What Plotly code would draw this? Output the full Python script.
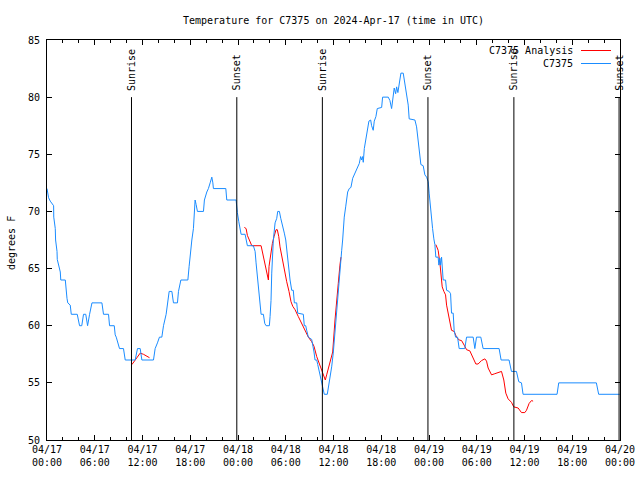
import plotly.graph_objects as go
from datetime import datetime, timedelta

START = datetime(2024, 4, 17, 0, 0)

# Observed station temperature (C7375): hours since 2024-04-17 00:00 UTC, deg F
obs_hours = [0.00, 0.20, 0.41, 0.83, 0.85, 1.04, 1.08, 1.26, 1.29, 1.46, 1.67, 1.73, 2.30, 2.51, 2.61, 2.92,
             3.05, 3.80, 4.09, 4.37, 4.59, 4.87, 5.10, 5.35, 5.65, 6.90, 7.10, 7.73, 7.86, 8.45, 8.57, 8.70,
             8.95, 9.11, 9.61, 9.83, 11.08, 11.30, 11.37, 11.71, 11.92, 13.38, 13.59, 13.88, 14.13, 14.43,
             14.64, 14.97, 15.14, 15.35, 15.69, 15.89, 16.39, 16.52, 16.82, 17.70, 17.86, 17.99, 18.20,
             18.40, 18.49, 18.61, 18.74, 18.90, 19.66, 19.78, 20.08, 20.28, 20.50, 20.71, 20.84, 20.91,
             22.47, 22.59, 23.76, 23.85, 23.92, 24.10, 24.26, 24.39, 24.89, 25.02, 25.18, 25.93, 26.15,
             26.27, 26.43, 26.61, 26.77, 26.90, 27.19, 27.36, 27.53, 27.94, 28.03, 28.15, 28.24, 28.32,
             28.44, 28.66, 28.87, 28.99, 29.20, 29.37, 29.62, 29.82, 30.00, 30.12, 30.25, 30.41, 30.54,
             30.75, 30.95, 31.08, 31.38, 31.50, 32.21, 32.33, 32.51, 32.63, 32.84, 33.26, 33.46, 33.55,
             33.68, 33.89, 34.02, 34.18, 34.52, 34.72, 34.84, 35.22, 35.35, 35.56, 35.77, 35.97, 36.19,
             36.40, 36.60, 36.81, 37.03, 37.15, 37.23, 37.35, 37.53, 37.66, 37.78, 37.98, 38.19, 38.41,
             38.61, 38.82, 38.99, 39.24, 39.41, 39.54, 39.66, 39.74, 39.87, 40.08, 40.24, 40.45, 40.67,
             40.79, 40.99, 41.12, 41.33, 41.50, 42.05, 42.17, 42.88, 43.09, 43.30, 43.50, 43.63, 43.81,
             43.93, 44.09, 44.26, 44.47, 44.76, 44.97, 45.19, 45.39, 45.51, 46.23, 46.44, 46.57, 46.73,
             46.86, 46.98, 47.27, 47.48, 47.70, 47.90, 48.02, 48.11, 48.32, 48.45, 48.61, 48.74, 48.86,
             49.15, 49.24, 49.37, 49.45, 49.58, 49.78, 50.08, 50.21, 50.53, 50.71, 50.83, 51.04, 51.16,
             51.34, 51.59, 51.79, 52.50, 52.72, 53.55, 53.76, 53.97, 54.51, 54.80, 56.81, 57.06, 58.06,
             58.36, 58.99, 59.28, 59.62, 59.82, 64.09, 64.30, 69.03, 69.32, 71.96]
obs_temp = [72.0, 71.2, 70.9, 70.5, 69.5, 68.5, 67.5, 66.5, 65.8, 65.2, 64.7, 64.0, 64.0, 62.4, 62.0, 61.8,
            61.0, 61.0, 60.0, 60.0, 61.0, 61.0, 60.0, 61.0, 62.0, 62.0, 61.0, 61.0, 60.0, 60.0, 59.2, 59.0,
            58.5, 58.0, 58.0, 57.0, 57.0, 57.7, 58.0, 58.0, 57.0, 57.0, 58.0, 58.5, 59.0, 59.0,
            60.0, 61.0, 62.0, 63.0, 63.0, 62.0, 62.0, 63.0, 64.0, 64.0, 65.2, 66.4, 67.5,
            68.5, 69.5, 71.0, 70.6, 70.0, 70.0, 71.0, 71.7, 72.0, 72.5, 73.0, 72.5, 72.0,
            72.0, 71.0, 71.0, 70.3, 69.9, 69.1, 68.4, 68.0, 68.0, 67.5, 67.0, 67.0, 66.5,
            65.5, 64.4, 63.4, 62.5, 61.0, 61.0, 60.2, 60.0, 60.0, 60.8, 62.2, 64.6, 66.6,
            67.5, 69.0, 69.4, 70.0, 70.0, 69.4, 68.8, 68.1, 67.5, 66.6, 65.8, 64.7, 64.0,
            63.1, 63.1, 62.0, 62.0, 61.1, 61.0, 60.0, 60.0, 59.6, 59.0, 58.8, 58.2, 57.7,
            57.0, 57.0, 56.6, 56.1, 55.0, 54.5, 54.0, 54.0, 54.5, 55.5, 56.4, 57.6, 59.5,
            61.5, 63.6, 65.0, 66.6, 67.5, 68.7, 69.5, 70.4, 71.3, 71.7, 72.0, 72.1, 72.9,
            73.2, 73.5, 73.9, 74.2, 74.8, 74.5, 74.8, 74.3, 75.5, 76.3, 77.0, 77.9, 78.0,
            77.5, 77.1, 77.9, 78.3, 79.0, 79.1, 80.0, 80.0, 79.7, 79.0, 80.0, 80.8, 80.3,
            80.9, 80.4, 81.2, 82.1, 82.1, 81.1, 80.3, 79.3, 78.1, 78.0, 77.4, 76.5, 75.7,
            74.8, 74.1, 74.0, 73.2, 73.0, 72.6, 71.6, 70.8, 69.6, 68.5, 67.6, 67.1, 66.0,
            66.0, 65.3, 65.9, 65.3, 66.0, 64.0, 64.0, 63.1, 63.0, 62.8, 61.1, 61.1, 59.6,
            59.0, 59.0, 58.0, 58.0, 59.0, 59.0, 58.0, 59.0, 59.0, 58.0, 58.0, 57.0, 57.0,
            56.0, 56.0, 55.1, 55.0, 54.0, 54.0, 55.0, 55.0, 54.0, 54.0]

# Analysis (three separate runs; None = gap)
ana_hours = [10.67, 10.87, 11.10, 11.30, 11.71, 12.12, 12.55, 12.88, None,
             24.80, 25.02, 25.18, 25.52, 25.73, 26.90, 27.11, 27.31, 27.53, 27.69, 27.82, 27.90, 28.12,
             28.32, 28.53, 28.78, 28.94, 29.12, 29.28, 29.50, 29.70, 29.91, 30.12, 30.41, 30.66, 30.88,
             31.17, 31.58, 32.01, 32.42, 32.84, 33.26, 33.55, 33.89, 34.18, 34.52, 34.81, 34.97, 35.14,
             35.35, 35.65, 35.90, 36.19, 36.40, 36.60, 36.81, 36.94, None,
             48.86, 49.15, 49.37, 49.49, 49.66, 49.87, 50.08, 50.21, 50.41, 50.62, 50.83, 51.16, 51.46,
             51.79, 52.09, 52.42, 52.72, 53.13, 53.55, 53.89, 54.17, 54.60, 55.02, 55.23, 55.43, 55.86,
             56.27, 56.68, 57.11, 57.40, 57.65, 57.94, 58.36, 58.65, 59.20, 59.62, 60.04, 60.25, 60.58,
             60.88, 61.08]
ana_temp = [56.6, 56.8, 57.0, 57.3, 57.6, 57.5, 57.3, 57.2, None,
            68.6, 68.5, 67.9, 67.35, 67.0, 67.0, 66.3, 65.75, 65.2, 64.4, 64.0, 65.2, 66.3,
            67.2, 67.8, 68.4, 68.4, 67.8, 66.9, 66.0, 65.2, 64.6, 63.85, 63.0, 62.1, 61.7,
            61.4, 60.8, 60.2, 59.6, 59.0, 58.6, 58.2, 57.3, 56.7, 56.0, 55.4, 55.25, 55.7,
            56.3, 57.0, 57.7, 60.5, 62.5, 63.7, 65.3, 66.0, None,
            67.1, 66.6, 65.5, 64.6, 63.4, 63.0, 62.7, 61.8, 61.1, 60.2, 59.6, 59.5, 59.0,
            58.75, 58.7, 58.3, 57.9, 57.8, 57.15, 56.65, 56.65, 56.95, 57.1, 56.9, 56.3, 55.7,
            55.8, 55.9, 56.0, 55.25, 54.1, 53.6, 53.3, 52.9, 52.8, 52.4, 52.4, 52.6, 53.2,
            53.45, 53.4]

sun_events = ["2024-04-17 10:37", "2024-04-17 23:51", "2024-04-18 10:36",
              "2024-04-18 23:52", "2024-04-19 10:40", "2024-04-19 23:53"]
sun_labels = ["Sunrise", "Sunset", "Sunrise", "Sunset", "Sunrise", "Sunset"]

x_tick_times = ["2024-04-17 00:00", "2024-04-17 06:00", "2024-04-17 12:00", "2024-04-17 18:00",
                "2024-04-18 00:00", "2024-04-18 06:00", "2024-04-18 12:00", "2024-04-18 18:00",
                "2024-04-19 00:00", "2024-04-19 06:00", "2024-04-19 12:00", "2024-04-19 18:00",
                "2024-04-20 00:00"]
x_tick_text = ["04/17<br>00:00", "04/17<br>06:00", "04/17<br>12:00", "04/17<br>18:00",
               "04/18<br>00:00", "04/18<br>06:00", "04/18<br>12:00", "04/18<br>18:00",
               "04/19<br>00:00", "04/19<br>06:00", "04/19<br>12:00", "04/19<br>18:00",
               "04/20<br>00:00"]
y_ticks = [50, 55, 60, 65, 70, 75, 80, 85]

FONT = "DejaVu Sans Mono"
BLUE = "#1a8cff"
RED = "#ff0000"


def to_time(hours):
    return [None if h is None else START + timedelta(hours=h) for h in hours]


fig = go.Figure()
fig.add_trace(go.Scatter(x=to_time(ana_hours), y=ana_temp, mode="lines",
                         line=dict(color=RED, width=1), connectgaps=False,
                         name="C7375 Analysis", showlegend=False))
fig.add_trace(go.Scatter(x=to_time(obs_hours), y=obs_temp, mode="lines",
                         line=dict(color=BLUE, width=1),
                         name="C7375", showlegend=False))

shapes = []
annotations = []
for t, lab in zip(sun_events, sun_labels):
    shapes.append(dict(type="line", xref="x", yref="y", x0=t, x1=t, y0=50, y1=80,
                       line=dict(color="black", width=1)))
    annotations.append(dict(x=t, y=80.4, xref="x", yref="y", text=lab, textangle=-90,
                            showarrow=False, xanchor="center", yanchor="bottom",
                            font=dict(family=FONT, size=10, color="black")))

# manual legend (top right, inside plot)
PL, PW, PT, PH = 47, 573, 40, 400


def px(xp):
    return (xp - PL) / PW


def py(yp):
    return (PT + PH - yp) / PH


for lab, col, yp in [("C7375 Analysis", RED, 50.5), ("C7375", BLUE, 63.5)]:
    annotations.append(dict(x=px(575), y=py(yp), xref="paper", yref="paper", text=lab,
                            showarrow=False, xanchor="right", yanchor="middle",
                            font=dict(family=FONT, size=10, color="black")))
    shapes.append(dict(type="line", xref="paper", yref="paper", x0=px(581), x1=px(611),
                       y0=py(yp), y1=py(yp), line=dict(color=col, width=1)))

annotations.append(dict(x=px(11), y=py(243), xref="paper", yref="paper", text="degrees F",
                        textangle=-90, showarrow=False, xanchor="center", yanchor="middle",
                        font=dict(family=FONT, size=10, color="black")))

fig.update_layout(
    width=640, height=480,
    margin=dict(l=PL, r=640 - PL - PW, t=PT, b=480 - PT - PH, pad=0, autoexpand=False),
    paper_bgcolor="white", plot_bgcolor="white",
    title=dict(text="Temperature for C7375 on 2024-Apr-17 (time in UTC)",
               x=0.5, xref="paper", xanchor="center", y=1 - 20 / 480, yref="container",
               yanchor="middle", font=dict(family=FONT, size=10, color="black")),
    font=dict(family=FONT, size=10, color="black"),
    shapes=shapes, annotations=annotations, showlegend=False,
)
fig.update_xaxes(range=["2024-04-17 00:00", "2024-04-20 00:00"], tickmode="array",
                 tickvals=x_tick_times, ticktext=x_tick_text, ticks="inside", ticklen=5,
                 tickcolor="black", showline=True, linecolor="black", linewidth=1,
                 mirror="ticks", showgrid=False, zeroline=False, automargin=False,
                 tickfont=dict(family=FONT, size=10, color="black"),
                 minor=dict(ticks="inside", ticklen=3, dtick=2 * 3600 * 1000,
                            tick0="2024-04-17 00:00", tickcolor="black", showgrid=False))
fig.update_yaxes(range=[50, 85], tickmode="array", tickvals=y_ticks,
                 ticks="inside", ticklen=5, tickcolor="black", showline=True, linecolor="black",
                 linewidth=1, mirror="ticks", showgrid=False, zeroline=False, automargin=False,
                 ticklabelstandoff=4,
                 tickfont=dict(family=FONT, size=10, color="black"))

fig.write_html("out.html", config={"displayModeBar": False},
               post_script="document.body.style.margin='0';")
